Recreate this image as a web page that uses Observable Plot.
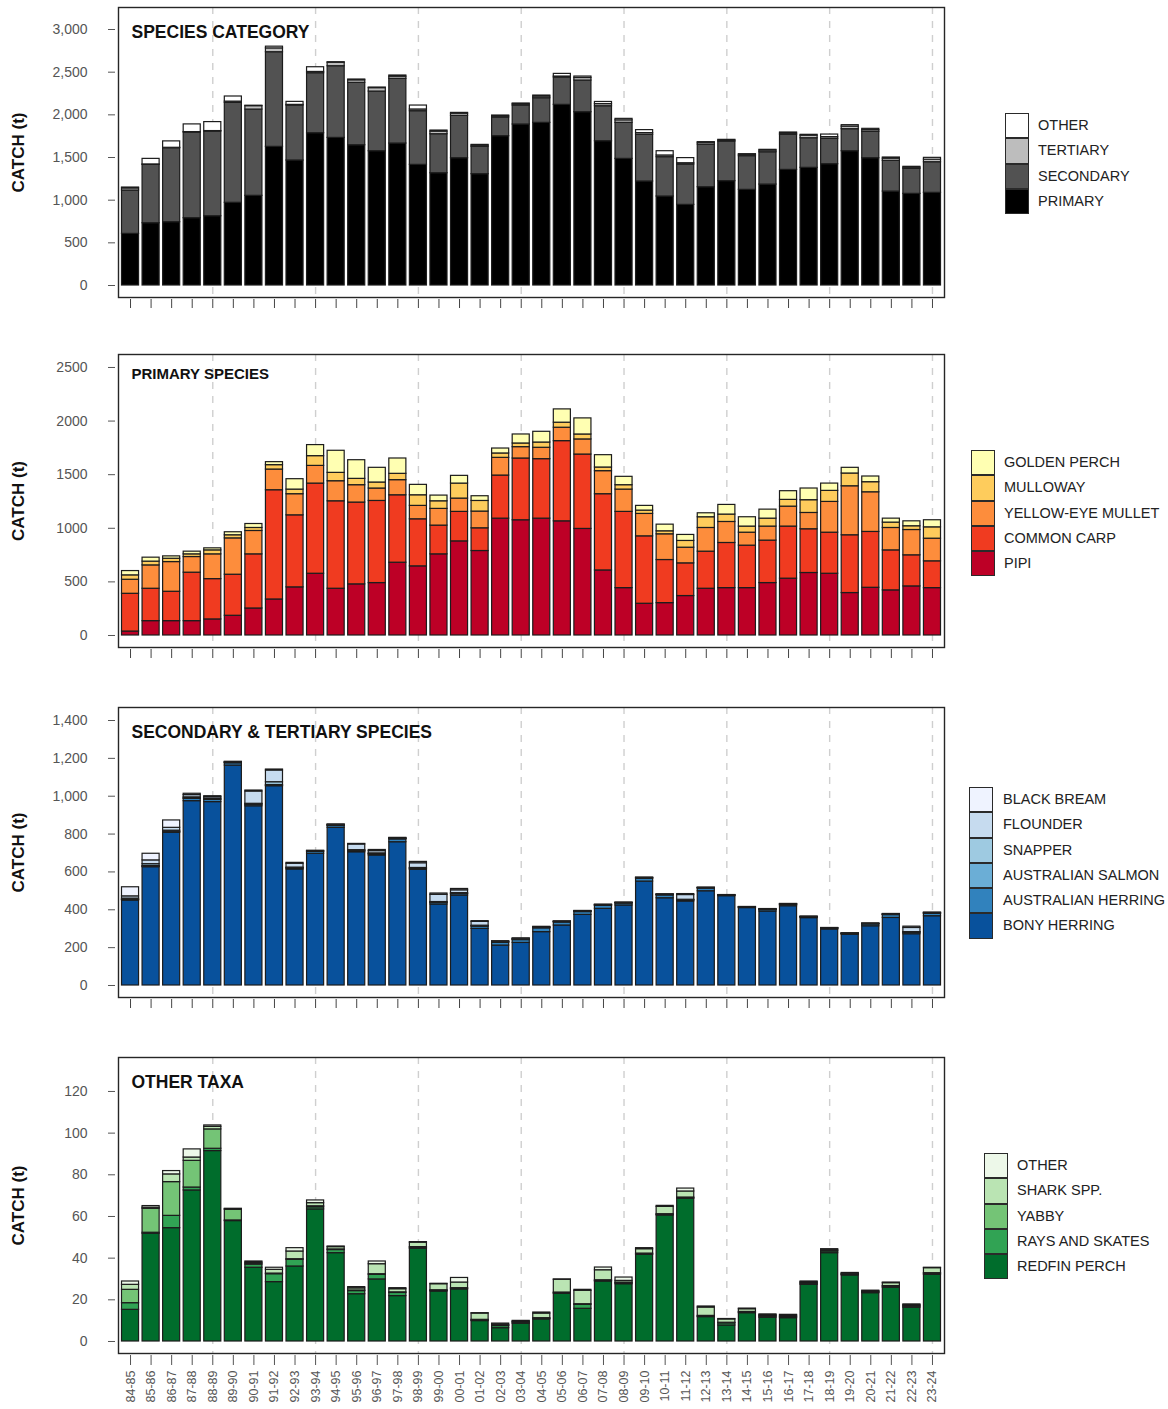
<!DOCTYPE html>
<html><head><meta charset="utf-8">
<script src="https://cdn.jsdelivr.net/npm/d3@7"></script>
<script src="https://cdn.jsdelivr.net/npm/@observablehq/plot@0.6"></script>
<style>
body{margin:0;background:#fff;font-family:"Liberation Sans",Arial,sans-serif;}
#wrap{position:relative;width:1168px;height:1409px;overflow:hidden;}
.panel{position:absolute;left:0;}
.legend{position:absolute;}
.legend .row{position:relative;height:25.3px;}
.legend .sw{position:absolute;left:0;top:0;width:24px;height:25.3px;box-sizing:border-box;border:1.5px solid #2a2a2a;}
.legend .lb{position:absolute;top:0;line-height:25.3px;font-size:14.5px;color:#222;white-space:nowrap;}
</style></head><body><div id="wrap"></div>
<script>
const years = ["84-85","85-86","86-87","87-88","88-89","89-90","90-91","91-92","92-93","93-94","94-95","95-96","96-97","97-98","98-99","99-00","00-01","01-02","02-03","03-04","04-05","05-06","06-07","07-08","08-09","09-10","10-11","11-12","12-13","13-14","14-15","15-16","16-17","17-18","18-19","19-20","20-21","21-22","22-23","23-24"];
const gridYears = ["88-89","93-94","98-99","03-04","08-09","13-14","18-19","23-24"];

// Panel 1: species category (bottom to top)
const catKeys = ["PRIMARY","SECONDARY","TERTIARY","OTHER"];
const catColors = ["#000000","#525252","#bdbdbd","#ffffff"];
const catPrimary = [605,730,742,789,812,969,1051,1625,1465,1785,1730,1644,1574,1664,1414,1316,1492,1305,1750,1887,1906,2117,2031,1691,1484,1219,1043,945,1152,1223,1121,1183,1355,1379,1422,1574,1492,1101,1074,1086];
const catSecondary = [508,684,867,1004,993,1171,1011,1109,644,703,840,731,699,758,629,457,496,320,219,222,289,320,371,410,422,547,461,473,500,464,395,379,411,347,297,258,309,360,293,359];
const catTertiary = [25,5,5,5,5,15,40,45,8,15,40,30,40,25,20,30,25,15,15,15,20,12,30,25,30,20,20,15,20,12,15,20,15,30,20,30,20,25,14,30];
const catOther = [10,65,75,90,105,60,5,20,35,55,7,9,7,14,46,13,10,8,8,9,11,31,17,25,17,35,50,60,8,8,8,8,12,10,30,17,15,14,10,21];

// Panel 2: primary species
const priKeys = ["PIPI","COMMON CARP","YELLOW-EYE MULLET","MULLOWAY","GOLDEN PERCH"];
const priColors = ["#bd0026","#f03b20","#fd8d3c","#fecc5c","#ffffb2"];
const pipi = [37,134,134,134,150,184,252,336,449,576,436,477,489,679,645,757,878,788,1090,1075,1090,1065,994,607,442,296,302,368,436,442,442,489,530,583,576,396,445,421,458,442];
const carp = [352,302,274,452,376,383,505,1019,672,841,816,763,766,629,439,268,275,212,402,576,555,748,694,711,711,629,402,305,346,421,396,396,486,408,383,539,521,373,290,250];
const mullet = [131,218,277,146,231,339,218,193,197,165,187,162,116,141,125,156,124,156,165,106,106,125,141,215,208,209,240,146,221,196,121,131,186,152,287,457,370,209,236,211];
const mulloway = [41,35,31,25,37,29,28,41,43,91,78,59,56,59,99,71,140,99,41,34,49,47,46,34,41,31,28,63,100,69,57,74,63,119,103,119,94,50,35,106];
const goldenPerch = [40,37,22,25,19,28,37,28,97,103,206,174,137,143,97,53,72,44,46,84,100,124,150,115,78,44,62,56,37,90,87,84,81,109,68,53,53,37,46,66];

// Panel 3: secondary & tertiary species
const secKeys = ["BONY HERRING","AUSTRALIAN HERRING","AUSTRALIAN SALMON","SNAPPER","FLOUNDER","BLACK BREAM"];
const secColors = ["#08519c","#3182bd","#6baed6","#9ecae1","#c6dbef","#eff3ff"];
const bonyHerring = [449,625,807,974,969,1162,947,1053,613,696,833,704,687,757,611,428,475,299,211,225,282,317,373,405,423,549,461,444,498,472,409,391,419,356,296,268,313,357,271,366];
const ausHerring = [3,3,3,12,12,12,8,3,5,10,10,6,6,15,5,8,8,12,15,15,20,16,15,16,10,15,15,5,14,3,3,8,7,4,4,4,10,15,8,13];
const ausSalmon = [2,3,3,3,2,2,2,3,2,2,2,2,2,2,2,2,2,2,2,2,2,2,2,2,2,2,2,2,2,1,1,1,1,1,1,1,1,1,1,1];
const snapper = [5,10,5,5,5,2,3,15,3,2,2,3,3,2,3,3,3,3,2,3,2,1,1,1,1,1,1,2,1,1,1,1,1,1,1,1,1,1,2,1];
const flounder = [12,20,15,12,8,2,65,62,20,0,2,30,12,2,25,38,15,20,2,2,2,2,2,2,1,2,2,25,1,0,0,2,2,1,1,1,2,3,22,3];
const blackBream = [48,35,39,7,4,2,5,5,5,2,2,3,6,2,7,7,7,4,2,2,2,1,1,1,1,1,1,5,1,1,1,1,1,1,1,1,1,1,7,1];

// Panel 4: other taxa
const othKeys = ["REDFIN PERCH","RAYS AND SKATES","YABBY","SHARK SPP.","OTHER"];
const othColors = ["#006d2c","#31a354","#74c476","#bae4b3","#edf8e9"];
const redfin = [15.2,51.7,54.4,72.5,91.4,57.8,35.4,28.5,36,63.4,42.4,22.7,29.8,21.8,44.5,24,25,9.8,6.4,8.5,10.6,22.9,15.7,28.8,27.5,41.6,60.5,68.5,11.7,7.7,13.6,11.4,11.2,27.2,42.4,31.7,23.2,25.8,16.2,32];
const rays = [3.2,0.5,5.9,1.4,1.1,0.3,1.5,3.8,3.2,1,1.5,1.5,2.2,1.5,0.5,0.3,0.3,0.3,1,0.5,0.3,0.3,1.9,0.3,0.5,0.3,0.3,0.3,0.3,1,0.3,0.5,0.5,0.5,0.8,0.3,0.3,0.5,0.5,0.5];
const yabby = [6.4,11.5,16.2,12.8,9.3,5.1,0.5,0.3,0.3,0.5,0.3,0.3,0.3,0.3,0.3,0.3,0.3,0.3,0.3,0.3,0.3,0.3,0.3,0.3,0.3,0.3,0.3,0.3,0.3,0.3,0.3,0.3,0.3,0.3,0.3,0.3,0.3,0.3,0.3,0.3];
const shark = [2.4,0.5,3.7,1.6,1.2,0.3,0.5,1.8,3.7,1.5,1.1,1,4.8,1.5,2.1,2.9,2.7,3,0.3,0.3,2.2,6.1,6.4,4.8,0.8,2.1,3.5,2.9,4,1.6,1.3,0.5,0.5,0.5,0.5,0.3,0.3,1.4,0.5,2.4];
const otherTaxa = [1.6,0.8,1.6,3.9,0.7,0.2,0.5,1,1.6,1.3,0.3,0.6,1.3,0.5,0.3,0.2,2.2,0.2,0.6,0.3,0.5,0.2,0.5,1.3,1.6,0.5,0.5,1.4,0.5,0.2,0.3,0.3,0.3,0.3,0.3,0.3,0.3,0.3,0.3,0.2];

const FONT = "'Liberation Sans', Arial, sans-serif";
const wrap = document.getElementById("wrap");

function panel(o) {
  const tidy = [];
  o.keys.forEach((k, i) => years.forEach((yr, j) => tidy.push({year: yr, species: k, value: o.series[i][j]})));
  const marks = [
    Plot.ruleX(gridYears, {x: d => d, stroke: "#cfcfcf", strokeWidth: 1.4, strokeDasharray: "7,7"}),
    Plot.barY(tidy, {x: "year", y: "value", fill: "species", order: o.keys, stroke: "#1c1c1c", strokeWidth: 1.2}),
    Plot.frame({stroke: "#262626", strokeWidth: 1.4}),
    Plot.axisY({ticks: o.yTicks, tickFormat: o.yFmt, tickSize: 7, dx: -3, tickPadding: 21, fontSize: 14, color: "#555", label: null}),
    Plot.text([o.title], {frameAnchor: "top-left", dx: 13, dy: o.titleDy, lineAnchor: "top", textAnchor: "start", fontWeight: "bold", fontSize: o.titleSize, fill: "#111"}),
    Plot.text(["CATCH (t)"], {frameAnchor: "left", dx: -100, rotate: -90, textAnchor: "middle", lineAnchor: "middle", fontWeight: "bold", fontSize: 17, fill: "#111"})
  ];
  if (o.labels) {
    marks.push(Plot.axisX({tickSize: 10, dy: 2, tickRotate: -90, tickPadding: 5, fontSize: 12.5, color: "#555", label: null}));
  } else {
    marks.push(Plot.axisX({tickSize: 9, dy: 2, tickFormat: () => "", color: "#444", label: null}));
  }
  const chart = Plot.plot({
    width: 1168,
    height: o.marginTop + o.frameH + o.marginBottom,
    marginLeft: 118, marginRight: 224, marginTop: o.marginTop, marginBottom: o.marginBottom,
    x: {domain: years, paddingInner: 0.17, paddingOuter: 0.17, round: false},
    y: {domain: o.yDomain},
    color: {domain: o.keys, range: o.colors},
    style: {fontFamily: FONT, background: "transparent", overflow: "visible"},
    marks
  });
  const div = document.createElement("div");
  div.className = "panel";
  div.style.top = o.top + "px";
  div.appendChild(chart);
  wrap.appendChild(div);

  // legend (top entry = last stacked series)
  const lg = document.createElement("div");
  lg.className = "legend";
  lg.style.left = o.legend.x + "px";
  lg.style.top = o.legend.y + "px";
  const ks = o.keys.slice().reverse(), cs = o.colors.slice().reverse();
  ks.forEach((k, i) => {
    const row = document.createElement("div"); row.className = "row";
    const sw = document.createElement("div"); sw.className = "sw"; sw.style.background = cs[i];
    const lb = document.createElement("div"); lb.className = "lb"; lb.style.left = o.legend.tx + "px"; lb.textContent = k;
    row.appendChild(sw); row.appendChild(lb); lg.appendChild(row);
  });
  wrap.appendChild(lg);
}

panel({top: 0, marginTop: 7, frameH: 290, marginBottom: 30,
  keys: catKeys, colors: catColors, series: [catPrimary, catSecondary, catTertiary, catOther],
  yDomain: [-140.6, 3258], yTicks: [0,500,1000,1500,2000,2500,3000], yFmt: d3.format(","),
  title: "SPECIES CATEGORY", titleSize: 17.5, titleDy: 18, legend: {x: 1005, y: 113, tx: 33}});

panel({top: 334, marginTop: 20, frameH: 293, marginBottom: 30,
  keys: priKeys, colors: priColors, series: [pipi, carp, mullet, mulloway, goldenPerch],
  yDomain: [-112, 2621], yTicks: [0,500,1000,1500,2000,2500], yFmt: d3.format("d"),
  title: "PRIMARY SPECIES", titleSize: 15, titleDy: 13.5, legend: {x: 971, y: 450, tx: 33}});

panel({top: 687, marginTop: 20, frameH: 290, marginBottom: 30,
  keys: secKeys, colors: secColors, series: [bonyHerring, ausHerring, ausSalmon, snapper, flounder, blackBream],
  yDomain: [-63.4, 1468.7], yTicks: [0,200,400,600,800,1000,1200,1400], yFmt: d3.format(","),
  title: "SECONDARY & TERTIARY SPECIES", titleSize: 17.5, titleDy: 18, legend: {x: 969, y: 787, tx: 34}});

panel({top: 1037, marginTop: 20, frameH: 296, marginBottom: 56,
  keys: othKeys, colors: othColors, series: [redfin, rays, yabby, shark, otherTaxa],
  yDomain: [-5.76, 136.3], yTicks: [0,20,40,60,80,100,120], yFmt: d3.format("d"),
  title: "OTHER TAXA", titleSize: 17.5, titleDy: 18, legend: {x: 984, y: 1153, tx: 33}, labels: true});
</script></body></html>
